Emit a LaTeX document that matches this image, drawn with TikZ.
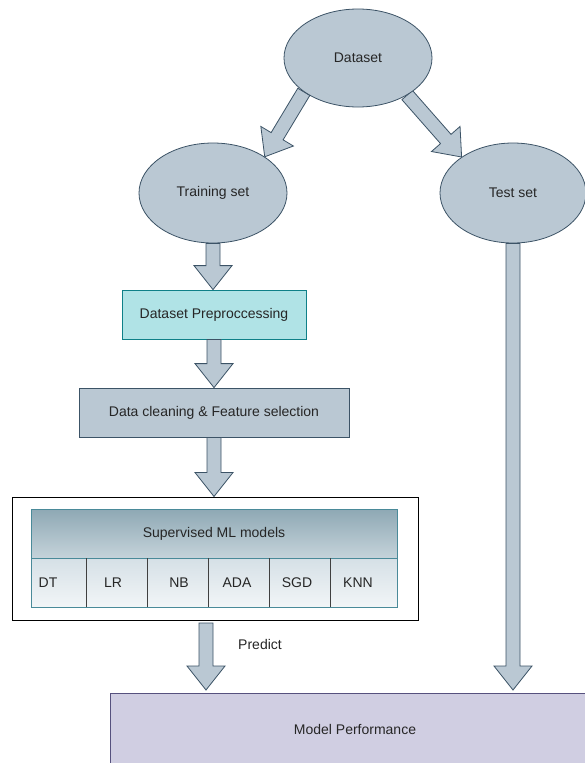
\documentclass[tikz,border=0pt]{standalone}
\usepackage{fontspec}
\setmainfont{Liberation Sans}
\usetikzlibrary{calc,shapes.geometric,backgrounds}
\definecolor{ellfill}{HTML}{BAC8D3}
\definecolor{ellline}{HTML}{3C5366}
\definecolor{prepfill}{HTML}{B0E3E6}
\definecolor{prepline}{HTML}{0E8088}
\definecolor{perffill}{HTML}{D0CEE2}
\definecolor{perfline}{HTML}{56517E}
\definecolor{hdrtop}{HTML}{8EA8B4}
\definecolor{hdrbot}{HTML}{C5D3DA}
\definecolor{rowtop}{HTML}{D5E0E6}
\definecolor{rowbot}{HTML}{F2F5F7}
\definecolor{tabline}{HTML}{4A8A99}
\tikzset{
  ell/.style={ellipse, draw=ellline, fill=ellfill, line width=0.8pt, inner sep=0pt},
  box/.style={rectangle, draw, line width=0.8pt, inner sep=0pt},
  blockarrow/.style={draw=ellline, fill=ellfill, line width=0.8pt, line join=miter},
  txt/.style={font=\fontsize{14}{16}\selectfont, text=black!85},
}
\newcommand{\barrow}[2]{%
  \path ($(#2)!24pt!(#1)$) coordinate (bh);
  \draw[blockarrow] ($(#1)!7pt!90:(#2)$) -- ($(bh)!7pt!90:(#2)$) -- ($(bh)!19pt!90:(#2)$) -- (#2) -- ($(bh)!19pt!-90:(#2)$) -- ($(bh)!7pt!-90:(#2)$) -- ($(#1)!7pt!-90:(#2)$) -- cycle;}
\begin{document}
\begin{tikzpicture}[x=1pt,y=-1pt]
\useasboundingbox (0,0) rectangle (585,763);
% ellipses
\node[ell, minimum width=148, minimum height=98, txt] (ds) at (358,58) {Dataset};
\node[ell, minimum width=148, minimum height=100, txt] (train) at (213,193) {Training set};
\node[ell, minimum width=146, minimum height=100, txt] (test) at (513,193) {Test set};
% boxes
\node[box, draw=prepline, fill=prepfill, minimum width=184, minimum height=49, txt] (prep) at (214,314.5) {Dataset Preproccessing};
\node[box, draw=ellline, fill=ellfill, minimum width=270, minimum height=49, txt] (clean) at (214,412.5) {Data cleaning \& Feature selection};
% outer ML box
\node[box, draw=black, fill=white, line width=1pt, minimum width=406, minimum height=123] (outer) at (215,558.5) {};
\node[box, draw=tabline, top color=hdrtop, bottom color=hdrbot, minimum width=366, minimum height=49, txt] (hdr) at (214,533.5) {Supervised ML models};
\node[box, draw=tabline, top color=rowtop, bottom color=rowbot, minimum width=366, minimum height=49] (row) at (214,582.5) {};
\foreach \cx in {86,147,208,269,330} {
  \draw[black!75, line width=0.8pt] (\cx,558) -- (\cx,607);
}
\node[txt] (dt) at (48,583) {DT};
\node[txt] (lr) at (113,583) {LR};
\node[txt] (nb) at (179,583) {NB};
\node[txt] (ada) at (237,583) {ADA};
\node[txt] (sgd) at (297,583) {SGD};
\node[txt] (knn) at (358,583) {KNN};
% performance
\node[box, draw=perfline, fill=perffill, minimum width=490, minimum height=72, txt] (perf) at (355,729) {Model Performance};
\node[txt] (pred) at (260,644) {Predict};
% arrows
\coordinate (pa) at (206,623);
\coordinate (pb) at (206,690);
\coordinate (tb) at (test.south |- pb);
\coordinate (mlt) at (clean.south |- outer.north);
\coordinate (pt) at (train.south |- prep.north);
\coordinate (ct) at (prep.south |- clean.north);
\begin{scope}[on background layer]
\fill[white] (0,0) rectangle (585,763);
\barrow{ds.212}{train.35}
\barrow{ds.323}{test.145}
\barrow{test.south}{tb}
\barrow{train.south}{pt}
\end{scope}
\barrow{prep.south}{ct}
\barrow{clean.south}{mlt}
\barrow{pa}{pb}
\end{tikzpicture}
\end{document}
